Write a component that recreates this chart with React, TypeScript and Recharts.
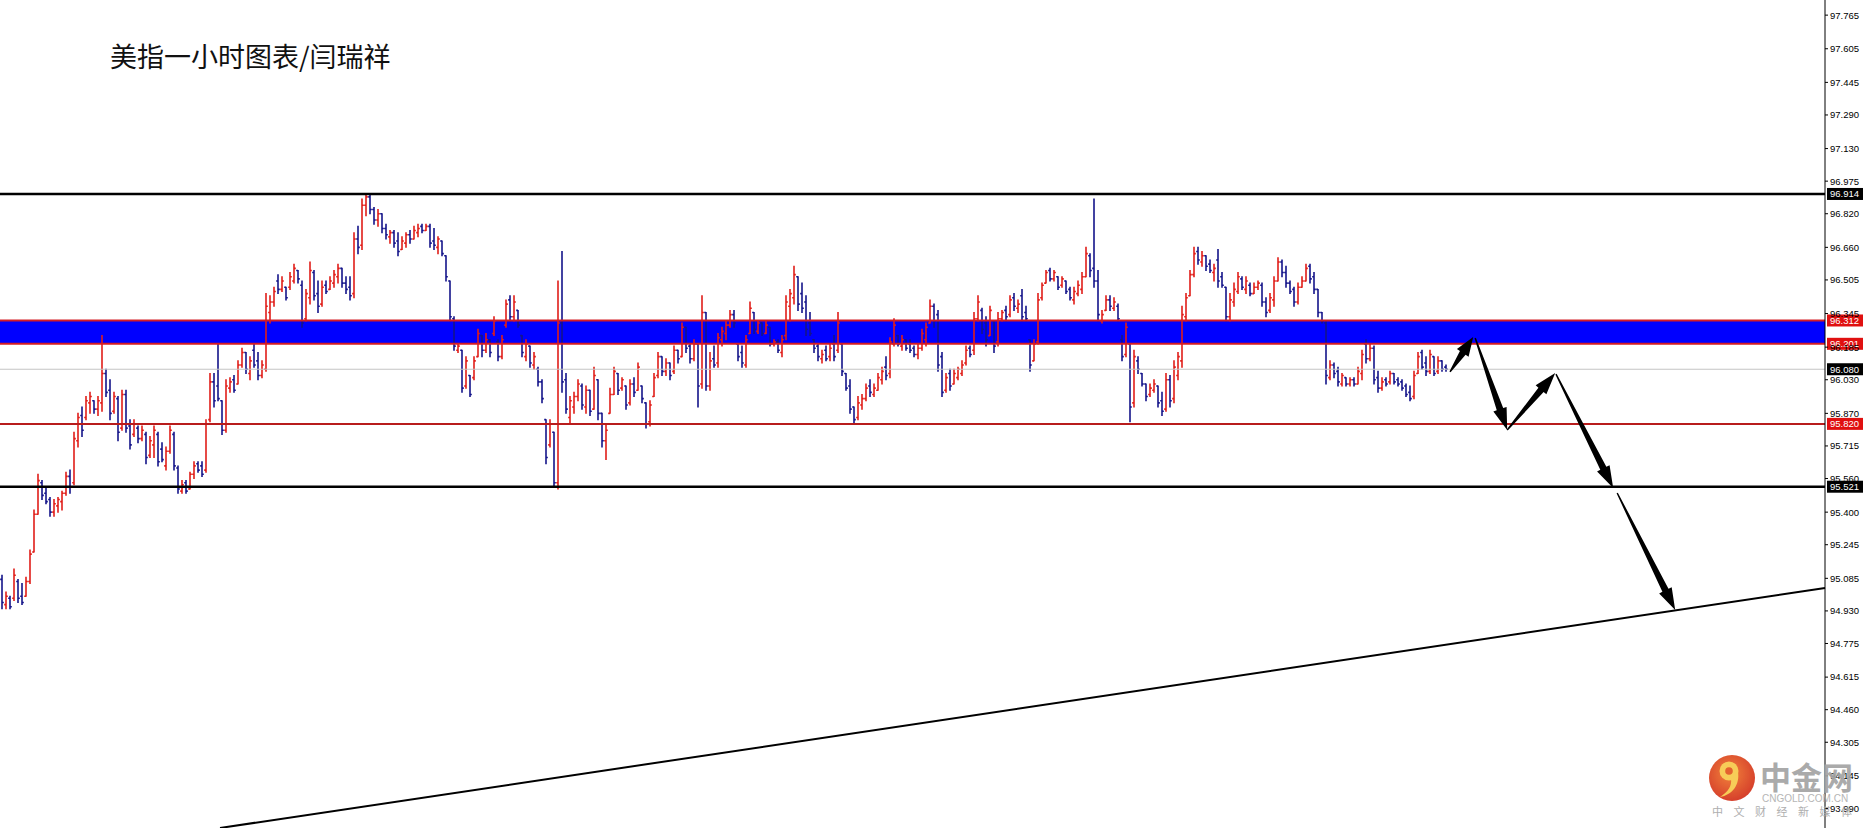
import React from 'react';
import { Bar, ComposedChart, ReferenceArea, ReferenceLine, XAxis, YAxis } from 'recharts';

// hourly bars: [open, high, low, close]
type OHLC = [number, number, number, number];

const barsA: OHLC[] = [
  [95.08, 95.10, 94.94, 94.97], [94.96, 95.02, 94.94, 95.00], [94.99, 95.00, 94.94, 94.95], [94.99, 95.13, 94.98, 95.10],
  [95.07, 95.08, 94.97, 94.99], [95.00, 95.06, 94.96, 94.97], [95.00, 95.09, 95.00, 95.07], [95.07, 95.22, 95.06, 95.20],
  [95.21, 95.41, 95.21, 95.39], [95.39, 95.58, 95.39, 95.55], [95.54, 95.55, 95.46, 95.48], [95.49, 95.52, 95.44, 95.45],
  [95.46, 95.47, 95.38, 95.40], [95.40, 95.46, 95.38, 95.44], [95.43, 95.47, 95.40, 95.46], [95.45, 95.50, 95.41, 95.49],
  [95.49, 95.59, 95.48, 95.57], [95.57, 95.60, 95.49, 95.52], [95.54, 95.78, 95.53, 95.75], [95.74, 95.87, 95.71, 95.85],
  [95.86, 95.90, 95.76, 95.79], [95.85, 95.95, 95.84, 95.93], [95.92, 95.97, 95.87, 95.95], [95.93, 95.93, 95.87, 95.89],
  [95.89, 95.95, 95.86, 95.93], [95.92, 96.24, 95.88, 96.06], [96.06, 96.08, 95.95, 95.97], [95.98, 96.03, 95.84, 95.87],
  [95.88, 95.97, 95.87, 95.95], [95.94, 95.95, 95.74, 95.78], [95.80, 95.98, 95.79, 95.96], [95.96, 95.98, 95.78, 95.80],
  [95.81, 95.84, 95.70, 95.72], [95.77, 95.84, 95.76, 95.82], [95.80, 95.81, 95.73, 95.75], [95.75, 95.81, 95.74, 95.79],
  [95.77, 95.78, 95.63, 95.66], [95.67, 95.76, 95.66, 95.74], [95.72, 95.81, 95.66, 95.79], [95.77, 95.78, 95.62, 95.64],
  [95.70, 95.73, 95.64, 95.65], [95.62, 95.71, 95.60, 95.69], [95.69, 95.81, 95.68, 95.79], [95.77, 95.78, 95.60, 95.62],
  [95.61, 95.62, 95.49, 95.51], [95.50, 95.55, 95.49, 95.53], [95.54, 95.55, 95.49, 95.50], [95.51, 95.59, 95.51, 95.58],
  [95.58, 95.64, 95.56, 95.62], [95.63, 95.64, 95.59, 95.60], [95.62, 95.64, 95.57, 95.58], [95.60, 95.84, 95.59, 95.82],
  [95.84, 96.06, 95.83, 96.02], [96.02, 96.06, 95.90, 95.93], [96.00, 96.20, 95.93, 95.94], [95.93, 95.93, 95.77, 95.79],
  [95.79, 96.03, 95.78, 96.00], [95.99, 96.04, 95.97, 96.02], [96.03, 96.05, 95.97, 95.98], [96.01, 96.12, 96.01, 96.10],
  [96.10, 96.18, 96.09, 96.16], [96.16, 96.16, 96.06, 96.08], [96.06, 96.14, 96.03, 96.12], [96.17, 96.20, 96.09, 96.10],
  [96.12, 96.16, 96.03, 96.05], [96.05, 96.12, 96.04, 96.10], [96.08, 96.44, 96.07, 96.38], [96.35, 96.43, 96.30, 96.40],
  [96.40, 96.47, 96.38, 96.45], [96.50, 96.53, 96.44, 96.46], [96.46, 96.52, 96.45, 96.50], [96.47, 96.47, 96.41, 96.42],
  [96.47, 96.54, 96.46, 96.52], [96.50, 96.58, 96.49, 96.56], [96.55, 96.55, 96.49, 96.51],
];

const barsB: OHLC[] = [
  [96.48, 96.50, 96.28, 96.30], [96.32, 96.46, 96.31, 96.44], [96.42, 96.59, 96.39, 96.55], [96.54, 96.55, 96.41, 96.43],
  [96.44, 96.50, 96.35, 96.38], [96.39, 96.50, 96.38, 96.47], [96.48, 96.50, 96.44, 96.45], [96.46, 96.52, 96.46, 96.50],
  [96.49, 96.55, 96.47, 96.53], [96.52, 96.58, 96.49, 96.56], [96.56, 96.56, 96.47, 96.49], [96.49, 96.52, 96.44, 96.46],
  [96.47, 96.52, 96.41, 96.43], [96.44, 96.73, 96.42, 96.70], [96.70, 96.76, 96.63, 96.66], [96.67, 96.89, 96.65, 96.86],
  [96.86, 96.91, 96.81, 96.90], [96.90, 96.91, 96.82, 96.84], [96.84, 96.85, 96.77, 96.79], [96.79, 96.84, 96.76, 96.82],
  [96.82, 96.82, 96.73, 96.75], [96.75, 96.77, 96.70, 96.72], [96.71, 96.74, 96.68, 96.73], [96.73, 96.74, 96.66, 96.68],
  [96.69, 96.73, 96.62, 96.64], [96.65, 96.71, 96.65, 96.69], [96.68, 96.73, 96.66, 96.72], [96.72, 96.74, 96.68, 96.70],
  [96.70, 96.76, 96.70, 96.74], [96.73, 96.77, 96.71, 96.75], [96.76, 96.77, 96.73, 96.74], [96.74, 96.77, 96.74, 96.76],
  [96.76, 96.77, 96.66, 96.68], [96.69, 96.75, 96.65, 96.67], [96.66, 96.71, 96.63, 96.70], [96.69, 96.69, 96.62, 96.63],
  [96.62, 96.62, 96.50, 96.52], [96.50, 96.50, 96.31, 96.33], [96.32, 96.33, 96.17, 96.19], [96.17, 96.20, 96.16, 96.19],
  [96.17, 96.17, 95.97, 95.99], [96.00, 96.14, 95.99, 96.12], [96.05, 96.05, 95.95, 95.96], [96.04, 96.14, 96.03, 96.12],
  [96.14, 96.27, 96.14, 96.25], [96.24, 96.24, 96.14, 96.17], [96.17, 96.25, 96.16, 96.22], [96.22, 96.22, 96.14, 96.16],
  [96.25, 96.33, 96.24, 96.31], [96.21, 96.22, 96.12, 96.14], [96.14, 96.24, 96.13, 96.22], [96.29, 96.41, 96.28, 96.39],
  [96.41, 96.43, 96.31, 96.33], [96.33, 96.43, 96.31, 96.40], [96.36, 96.36, 96.28, 96.29], [96.24, 96.24, 96.14, 96.16],
  [96.14, 96.22, 96.12, 96.20], [96.19, 96.19, 96.09, 96.11], [96.10, 96.16, 96.08, 96.14], [96.08, 96.09, 96.00, 96.02],
  [96.02, 96.03, 95.92, 95.94], [95.84, 95.84, 95.63, 95.66], [95.72, 95.84, 95.71, 95.82], [95.78, 95.78, 95.52, 95.54],
  [95.54, 96.50, 95.51, 96.30], [96.30, 96.64, 95.97, 96.02], [96.03, 96.06, 95.87, 95.89], [95.85, 95.95, 95.82, 95.93],
  [95.90, 95.97, 95.87, 95.95], [95.95, 96.03, 95.93, 96.01], [96.00, 96.01, 95.89, 95.91], [95.90, 96.00, 95.87, 95.98],
  [95.98, 95.98, 95.86, 95.88],
];

const barsC: OHLC[] = [
  [95.89, 96.09, 95.89, 96.05], [96.03, 96.03, 95.84, 95.87], [95.87, 95.87, 95.71, 95.74], [95.74, 95.82, 95.65, 95.79],
  [95.87, 95.99, 95.87, 95.96], [95.96, 96.09, 95.96, 96.07], [96.06, 96.06, 95.96, 95.98], [95.99, 96.04, 95.98, 96.03],
  [96.00, 96.00, 95.89, 95.91], [95.92, 96.03, 95.91, 96.01], [96.01, 96.04, 95.95, 95.97], [95.98, 96.11, 95.98, 96.09],
  [96.00, 96.00, 95.92, 95.94], [95.92, 95.92, 95.80, 95.82], [95.83, 95.93, 95.81, 95.91], [95.95, 96.06, 95.95, 96.04],
  [96.05, 96.16, 96.04, 96.14], [96.14, 96.14, 96.05, 96.07], [96.07, 96.13, 96.05, 96.11], [96.11, 96.11, 96.03, 96.05],
  [96.07, 96.19, 96.06, 96.17], [96.17, 96.17, 96.11, 96.13], [96.14, 96.30, 96.14, 96.28], [96.28, 96.28, 96.16, 96.18],
  [96.19, 96.20, 96.11, 96.13], [96.13, 96.22, 96.12, 96.20], [96.20, 96.20, 95.90, 96.00], [96.01, 96.43, 95.99, 96.35],
  [96.35, 96.35, 95.98, 96.00], [96.00, 96.16, 95.98, 96.12], [96.13, 96.19, 96.09, 96.10], [96.11, 96.25, 96.09, 96.23],
  [96.22, 96.28, 96.19, 96.26], [96.25, 96.31, 96.22, 96.29], [96.29, 96.36, 96.28, 96.34], [96.34, 96.36, 96.28, 96.30],
  [96.20, 96.20, 96.12, 96.14], [96.16, 96.19, 96.09, 96.11], [96.10, 96.24, 96.09, 96.22], [96.25, 96.40, 96.25, 96.37],
  [96.35, 96.35, 96.25, 96.27], [96.26, 96.31, 96.25, 96.30], [96.30, 96.30, 96.24, 96.25], [96.25, 96.31, 96.25, 96.29],
  [96.28, 96.28, 96.19, 96.20], [96.20, 96.22, 96.19, 96.21], [96.21, 96.22, 96.16, 96.17], [96.16, 96.24, 96.14, 96.22],
  [96.24, 96.43, 96.22, 96.40], [96.38, 96.46, 96.31, 96.44], [96.42, 96.57, 96.39, 96.53], [96.52, 96.52, 96.36, 96.39],
  [96.44, 96.49, 96.35, 96.37], [96.40, 96.43, 96.24, 96.27], [96.30, 96.35, 96.24, 96.25], [96.22, 96.22, 96.16, 96.18],
  [96.19, 96.20, 96.12, 96.14], [96.13, 96.17, 96.11, 96.15], [96.17, 96.19, 96.12, 96.13], [96.14, 96.20, 96.12, 96.18],
  [96.20, 96.24, 96.12, 96.14], [96.17, 96.35, 96.16, 96.30], [96.20, 96.20, 96.05, 96.07], [96.06, 96.06, 95.98, 95.99],
  [96.00, 96.03, 95.87, 95.89], [95.90, 95.90, 95.82, 95.84], [95.85, 95.95, 95.84, 95.92], [95.91, 95.96, 95.89, 95.94],
  [95.94, 96.01, 95.93, 95.99], [96.00, 96.03, 95.95, 95.97],
];

const barsD: OHLC[] = [
  [95.96, 96.01, 95.95, 95.99], [95.98, 96.06, 95.98, 96.04], [96.03, 96.09, 96.01, 96.07], [96.09, 96.14, 96.03, 96.05],
  [96.06, 96.23, 96.04, 96.21], [96.20, 96.32, 96.19, 96.29], [96.24, 96.24, 96.19, 96.20], [96.19, 96.24, 96.17, 96.22],
  [96.22, 96.22, 96.17, 96.18], [96.20, 96.22, 96.16, 96.17], [96.18, 96.19, 96.14, 96.15], [96.15, 96.20, 96.13, 96.18],
  [96.18, 96.27, 96.17, 96.25], [96.22, 96.30, 96.19, 96.28], [96.30, 96.41, 96.30, 96.38], [96.38, 96.39, 96.28, 96.31],
  [96.34, 96.36, 96.07, 96.10], [96.14, 96.16, 95.95, 95.97], [95.98, 96.06, 95.97, 96.04], [96.06, 96.08, 95.98, 96.00],
  [96.01, 96.08, 96.01, 96.06], [96.04, 96.09, 96.03, 96.08], [96.06, 96.12, 96.05, 96.10], [96.11, 96.19, 96.10, 96.17],
  [96.18, 96.19, 96.14, 96.15], [96.17, 96.35, 96.15, 96.32], [96.32, 96.43, 96.31, 96.40], [96.36, 96.37, 96.25, 96.27],
  [96.30, 96.33, 96.19, 96.22], [96.24, 96.38, 96.24, 96.36], [96.31, 96.31, 96.16, 96.19], [96.21, 96.35, 96.19, 96.32],
  [96.32, 96.36, 96.31, 96.35], [96.36, 96.38, 96.31, 96.33], [96.34, 96.43, 96.33, 96.41], [96.42, 96.44, 96.36, 96.38],
  [96.37, 96.41, 96.35, 96.39], [96.43, 96.46, 96.31, 96.33], [96.35, 96.38, 96.31, 96.32], [96.22, 96.22, 96.07, 96.10],
  [96.12, 96.22, 96.12, 96.20], [96.21, 96.44, 96.20, 96.41], [96.42, 96.49, 96.41, 96.48], [96.49, 96.55, 96.49, 96.54],
  [96.55, 96.56, 96.50, 96.51], [96.51, 96.55, 96.50, 96.54], [96.52, 96.52, 96.46, 96.47], [96.48, 96.52, 96.47, 96.51],
  [96.50, 96.50, 96.44, 96.45], [96.46, 96.47, 96.41, 96.42], [96.41, 96.47, 96.39, 96.45], [96.44, 96.50, 96.43, 96.48],
  [96.46, 96.54, 96.44, 96.52], [96.52, 96.66, 96.52, 96.63], [96.62, 96.63, 96.52, 96.55], [96.56, 96.89, 96.47, 96.50],
  [96.50, 96.55, 96.31, 96.34], [96.31, 96.36, 96.30, 96.34], [96.36, 96.43, 96.36, 96.41], [96.41, 96.43, 96.36, 96.38],
  [96.37, 96.42, 96.36, 96.40], [96.38, 96.39, 96.31, 96.32], [96.22, 96.24, 96.12, 96.14], [96.15, 96.30, 96.14, 96.28],
  [96.20, 96.20, 95.83, 95.90], [95.92, 96.17, 95.90, 96.14], [96.12, 96.14, 96.06, 96.08], [96.06, 96.06, 96.00, 96.01],
  [96.01, 96.01, 95.93, 95.95], [95.96, 96.01, 95.95, 95.99], [95.98, 96.03, 95.97, 96.01], [96.00, 96.00, 95.90, 95.92],
  [95.93, 95.97, 95.86, 95.88], [95.89, 96.06, 95.88, 96.03],
];

const barsE: OHLC[] = [
  [96.03, 96.05, 95.90, 95.93], [95.94, 96.12, 95.92, 96.09], [96.05, 96.16, 96.03, 96.14], [96.12, 96.38, 96.09, 96.34],
  [96.33, 96.44, 96.31, 96.42], [96.43, 96.55, 96.43, 96.53], [96.53, 96.66, 96.52, 96.63], [96.64, 96.66, 96.58, 96.60],
  [96.59, 96.64, 96.57, 96.62], [96.62, 96.62, 96.55, 96.57], [96.58, 96.60, 96.54, 96.55], [96.54, 96.58, 96.50, 96.56],
  [96.60, 96.65, 96.47, 96.50], [96.52, 96.54, 96.47, 96.48], [96.47, 96.47, 96.31, 96.33], [96.33, 96.44, 96.31, 96.41],
  [96.40, 96.49, 96.38, 96.46], [96.45, 96.54, 96.44, 96.52], [96.51, 96.52, 96.46, 96.47], [96.46, 96.52, 96.44, 96.50],
  [96.48, 96.49, 96.43, 96.44], [96.44, 96.49, 96.44, 96.47], [96.47, 96.50, 96.46, 96.49], [96.48, 96.49, 96.38, 96.40],
  [96.40, 96.42, 96.33, 96.35], [96.36, 96.44, 96.35, 96.42], [96.41, 96.52, 96.38, 96.50], [96.50, 96.61, 96.50, 96.59],
  [96.59, 96.60, 96.52, 96.54], [96.54, 96.57, 96.47, 96.49], [96.49, 96.50, 96.44, 96.45], [96.46, 96.47, 96.38, 96.40],
  [96.40, 96.49, 96.39, 96.47], [96.47, 96.52, 96.47, 96.50], [96.50, 96.58, 96.50, 96.56], [96.57, 96.58, 96.49, 96.51],
  [96.52, 96.54, 96.44, 96.46], [96.46, 96.46, 96.33, 96.35], [96.35, 96.35, 96.30, 96.31], [96.30, 96.31, 96.01, 96.05],
  [96.04, 96.12, 96.03, 96.10], [96.10, 96.11, 96.04, 96.06], [96.07, 96.09, 96.00, 96.02], [96.01, 96.06, 96.00, 96.05],
  [96.04, 96.04, 96.00, 96.01], [96.01, 96.04, 96.00, 96.03], [96.03, 96.04, 96.00, 96.01], [96.01, 96.09, 96.01, 96.07],
  [96.06, 96.17, 96.03, 96.15], [96.20, 96.22, 96.11, 96.13], [96.13, 96.20, 96.12, 96.18], [96.18, 96.19, 96.01, 96.03],
  [96.04, 96.07, 95.97, 95.99], [95.99, 96.04, 95.98, 96.02], [96.03, 96.04, 96.00, 96.01], [96.02, 96.07, 96.01, 96.06],
  [96.06, 96.06, 96.01, 96.02], [96.03, 96.04, 96.00, 96.01], [96.02, 96.03, 95.98, 95.99], [96.00, 96.01, 95.95, 95.96],
  [95.97, 96.00, 95.93, 95.94], [95.95, 96.07, 95.94, 96.05], [96.06, 96.16, 96.06, 96.14], [96.16, 96.17, 96.08, 96.09],
  [96.11, 96.14, 96.05, 96.07], [96.07, 96.17, 96.06, 96.15], [96.14, 96.14, 96.05, 96.06], [96.07, 96.14, 96.06, 96.12],
  [96.12, 96.12, 96.07, 96.08], [96.09, 96.10, 96.07, 96.08],
];

// right-hand price scale labels
const priceTicks = [
  97.765, 97.605, 97.445, 97.29, 97.13, 96.975, 96.82, 96.66, 96.505, 96.345, 96.185, 96.03, 95.87,
  95.715, 95.56, 95.4, 95.245, 95.085, 94.93, 94.775, 94.615, 94.46, 94.305, 94.145, 93.99,
];

// drawn levels
const resistanceTop = 96.914;
const bandHigh = 96.312;
const bandLow = 96.201;
const lastPrice = 96.08;
const support1 = 95.82;
const support2 = 95.521;

// rising trend line (bar index, price)
const trendLine: [number, number][] = [[54.5, 93.897], [455.75, 95.039]];

// projected path arrows (bar index, price) -> (bar index, price)
const arrowLegs: [[number, number], [number, number]][] = [
  [[362.0, 96.067], [367.8, 96.233]],
  [[368.3, 96.229], [376.3, 95.791]],
  [[376.3, 95.791], [388.3, 96.062]],
  [[388.5, 96.057], [402.8, 95.515]],
  [[403.8, 95.491], [418.3, 94.934]],
];

const W = 1866;
const H = 828;
const UP = '#e01d18';
const DOWN = '#14148a';
const Y_DOMAIN: [number, number] = [93.897, 97.837];
const X_DOMAIN: [number, number] = [-0.5, 455.75];

const ohlc = [...barsA, ...barsB, ...barsC, ...barsD, ...barsE];
const chartData = ohlc.map(([o, h, l, c], i) => ({ i, o, h, l, c, range: [l, h] }));

function OhlcShape(props: any) {
  const { x, y, width, height } = props;
  const p = props.payload || props;
  if (x == null || y == null) return null;
  const top = Math.min(y, y + height);
  const bottom = Math.max(y, y + height);
  const span = p.h - p.l || 1;
  const yOf = (v: number) => top + ((p.h - v) / span) * (bottom - top);
  const cx = x + width / 2;
  const color = p.c >= p.o ? UP : DOWN;
  return (
    <g stroke={color} strokeWidth={1.6}>
      <line x1={cx} x2={cx} y1={top - 0.5} y2={bottom + 0.5} />
      <line x1={cx - 1.8} x2={cx} y1={yOf(p.o)} y2={yOf(p.o)} />
      <line x1={cx} x2={cx + 1.8} y1={yOf(p.c)} y2={yOf(p.c)} />
    </g>
  );
}

function ArrowShape(props: any) {
  const { x1, y1, x2, y2 } = props;
  if ([x1, y1, x2, y2].some((v) => v == null || isNaN(v))) return null;
  const dx = x2 - x1;
  const dy = y2 - y1;
  const len = Math.hypot(dx, dy) || 1;
  const ux = dx / len;
  const uy = dy / len;
  const nx = -uy;
  const ny = ux;
  const hl = Math.min(22, len * 0.45);
  const hw = 7;
  const s0 = 0.7;
  const s1 = 3.4;
  const bx = x2 - ux * hl;
  const by = y2 - uy * hl;
  const pts = [
    [x1 + nx * s0, y1 + ny * s0],
    [bx + nx * s1, by + ny * s1],
    [bx + nx * hw, by + ny * hw],
    [x2, y2],
    [bx - nx * hw, by - ny * hw],
    [bx - nx * s1, by - ny * s1],
    [x1 - nx * s0, y1 - ny * s0],
  ];
  return <polygon points={pts.map((q) => q.join(',')).join(' ')} fill="#000" />;
}

const priceTag = (value: number, bg: string) => (props: any) => {
  const vb = props.viewBox || {};
  const x = (vb.x ?? 0) + (vb.width ?? 0) + 2;
  const y = vb.y ?? 0;
  return (
    <g>
      <rect x={x} y={y - 6} width={36} height={12} fill={bg} />
      <text x={x + 3} y={y + 3.5} fill="#fff" fontSize={9.5} fontFamily="Liberation Sans, Arial, sans-serif">
        {value.toFixed(3)}
      </text>
    </g>
  );
};

export default function App() {
  return (
    <div style={{ position: 'relative', width: W, height: H, background: '#fff', overflow: 'hidden' }}>
      <style>{'body{margin:0;background:#fff}'}</style>
      <ComposedChart width={W} height={H} data={chartData} margin={{ top: 0, right: 0, bottom: 0, left: 0 }}>
        <XAxis type="number" dataKey="i" domain={X_DOMAIN} hide allowDataOverflow />
        <YAxis
          orientation="right"
          type="number"
          domain={Y_DOMAIN}
          allowDataOverflow
          ticks={priceTicks}
          interval={0}
          width={41}
          tickSize={3}
          tickLine={{ stroke: '#000' }}
          axisLine={{ stroke: '#000' }}
          tick={{ fill: '#000', fontSize: 9.5, fontFamily: 'Liberation Sans, Arial, sans-serif' }}
          tickFormatter={(v: number) => v.toFixed(3)}
        />
        <ReferenceArea y1={bandLow} y2={bandHigh} fill="#0000ff" fillOpacity={1} stroke="none" ifOverflow="hidden" />
        <ReferenceLine y={lastPrice} stroke="#c4c4c4" strokeWidth={1} label={priceTag(lastPrice, '#000')} />
        <Bar dataKey="range" barSize={2} isAnimationActive={false} shape={OhlcShape} />
        <ReferenceLine y={bandHigh} stroke="#d41c24" strokeWidth={2} label={priceTag(bandHigh, '#e01010')} />
        <ReferenceLine y={bandLow} stroke="#d41c24" strokeWidth={2} label={priceTag(bandLow, '#e01010')} />
        <ReferenceLine y={resistanceTop} stroke="#000" strokeWidth={2.5} label={priceTag(resistanceTop, '#000')} />
        <ReferenceLine y={support1} stroke="#b81c1c" strokeWidth={2} label={priceTag(support1, '#e01010')} />
        <ReferenceLine y={support2} stroke="#000" strokeWidth={2.5} label={priceTag(support2, '#000')} />
        <ReferenceLine
          segment={[{ x: trendLine[0][0], y: trendLine[0][1] }, { x: trendLine[1][0], y: trendLine[1][1] }]}
          stroke="#000"
          strokeWidth={2}
          ifOverflow="visible"
        />
        {arrowLegs.map(([a, b], k) => (
          <ReferenceLine
            key={k}
            segment={[{ x: a[0], y: a[1] }, { x: b[0], y: b[1] }]}
            ifOverflow="visible"
            shape={ArrowShape}
          />
        ))}
      </ComposedChart>
      <svg width={W} height={H} style={{ position: 'absolute', left: 0, top: 0, pointerEvents: 'none' }}>
        <text x={110} y={67} fontSize={27} fill="#111" fontFamily="'Noto Sans CJK SC', sans-serif">
          美指一小时图表/闫瑞祥
        </text>
        <defs>
          <radialGradient id="logoG" cx="0.45" cy="0.4" r="0.6">
            <stop offset="0%" stopColor="#f0782a" />
            <stop offset="100%" stopColor="#d3301a" />
          </radialGradient>
        </defs>
        <g opacity={0.92}>
          <circle cx={1732} cy={778} r={23} fill="url(#logoG)" />
          <circle cx={1729} cy={771} r={9.5} fill="#f7c84a" />
          <circle cx={1729} cy={771} r={3.8} fill="#e2541e" />
          <path d="M1738,772 C1740,785 1732,795 1720,797 C1728,792 1732,786 1731,779 Z" fill="#f7c84a" />
          <text x={1760} y={789} fontSize={31} fontWeight={700} fill="#a3a3a3" fontFamily="'Noto Sans CJK SC', sans-serif">
            中金网
          </text>
          <text x={1762} y={802} fontSize={10} fill="#b0b0b0" fontFamily="Liberation Sans, Arial, sans-serif">
            CNGOLD.COM.CN
          </text>
          <text x={1712} y={816} fontSize={11} fill="#a8a8a8" letterSpacing={10.5} fontFamily="'Noto Sans CJK SC', sans-serif">
            中文财经新媒体
          </text>
        </g>
      </svg>
    </div>
  );
}
